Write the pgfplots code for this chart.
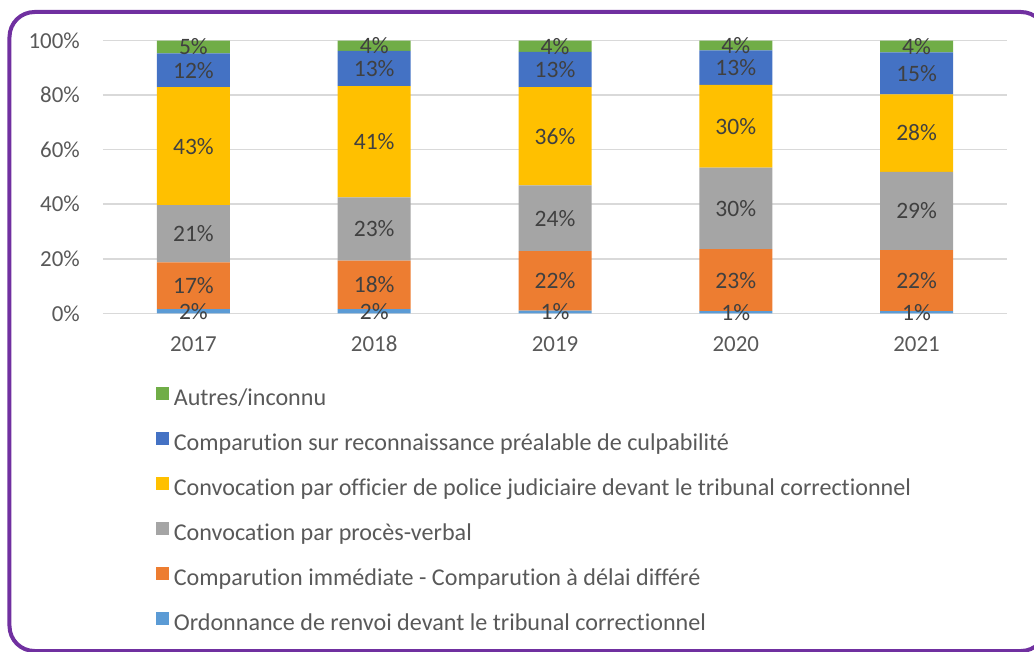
\documentclass[border=0pt]{standalone}
\usepackage{pgfplots}
\usepackage{pgfplotstable}
\pgfplotsset{compat=1.18}
\usepackage{fontspec}
\setmainfont[Ligatures=NoCommon]{Carlito}
\definecolor{cGreen}{HTML}{70AD47}
\definecolor{cBlue}{HTML}{4472C4}
\definecolor{cYellow}{HTML}{FFC000}
\definecolor{cGray}{HTML}{A5A5A5}
\definecolor{cOrange}{HTML}{ED7D31}
\definecolor{cLight}{HTML}{5B9BD5}
\definecolor{cFrame}{HTML}{7030A0}
\definecolor{cTick}{HTML}{595959}
\definecolor{cLabel}{HTML}{404040}
\definecolor{cGrid}{HTML}{D9D9D9}
\newcommand\tickfont{\fontsize{23}{27}\selectfont}
\newcommand\barfont{\fontsize{23.6}{27}\selectfont}
\newcommand\legfont{\fontsize{24.2}{28}\selectfont}

% segment values (share of each year, %)
\pgfplotstableread{
x ord cmp pv opj crpc autres
0 1.5 17.2 21.0 43.2 12.4 4.7
1 1.5 17.8 23.2 40.8 12.9 3.8
2 1.0 21.8 24.1 36.0 13.0 4.1
3 0.8 22.7 29.9 30.4 12.6 3.6
4 0.8 22.4 28.7 28.4 15.4 4.3
}\data

% label positions (segment centres) and printed labels
\pgfplotstableread{
x y lab
0 0.75 2
0 10.1 17
0 29.2 21
0 61.3 43
0 89.1 12
0 97.65 5
1 0.75 2
1 10.4 18
1 30.9 23
1 62.9 41
1 89.75 13
1 98.1 4
2 0.5 1
2 11.9 22
2 34.85 24
2 64.9 36
2 89.4 13
2 97.95 4
3 0.4 1
3 12.15 23
3 38.45 30
3 68.6 30
3 90.1 13
3 98.2 4
4 0.4 1
4 12.0 22
4 37.55 29
4 66.1 28
4 88.0 15
4 97.85 4
}\labels

\begin{document}
\begin{tikzpicture}
\useasboundingbox (-103bp,-338.7bp) rectangle (931bp,313.3bp);
\begin{axis}[
  scale only axis, width=904bp, height=272.7bp,
  xmin=-0.5, xmax=4.5, ymin=0, ymax=100,
  ybar stacked, bar width=73bp,
  axis line style={draw=none},
  ymajorgrids, grid style={cGrid, line width=1.5bp},
  ytick={0,20,...,100}, xtick={0,...,4},
  xticklabels={2017,2018,2019,2020,2021},
  tick style={draw=none},
  yticklabel={\pgfmathprintnumber{\tick}\%},
  /pgf/number format/assume math mode=true,
  ticklabel style={font=\tickfont, text=cTick, inner sep=0pt},
  yticklabel style={anchor=east, xshift=-23bp},
  xticklabel style={anchor=center, yshift=-30.7bp},
  reverse legend,
  legend cell align=left,
  legend style={
    at={(axis description cs:0,0)}, anchor=north west,
    xshift=52.6bp, yshift=-73.8bp,
    draw=none, fill=none, inner sep=0pt,
    row sep=21.5bp, column sep=5bp,
    font=\legfont, text=cTick,
    nodes={inner sep=0pt, text height=16bp, text depth=5bp},
  },
  legend image code/.code={\fill[#1] (0bp,0bp) rectangle (13bp,13bp);},
]
\addplot[fill=cLight, draw=none] table[x=x,y=ord]{\data};
\addplot[fill=cOrange, draw=none] table[x=x,y=cmp]{\data};
\addplot[fill=cGray, draw=none] table[x=x,y=pv]{\data};
\addplot[fill=cYellow, draw=none] table[x=x,y=opj]{\data};
\addplot[fill=cBlue, draw=none] table[x=x,y=crpc]{\data};
\addplot[fill=cGreen, draw=none] table[x=x,y=autres]{\data};
\legend{Ordonnance de renvoi devant le tribunal correctionnel,
  Comparution immédiate - Comparution à délai différé,
  Convocation par procès-verbal,
  Convocation par officier de police judiciaire devant le tribunal correctionnel,
  Comparution sur reconnaissance préalable de culpabilité,
  Autres/inconnu}
\end{axis}
\begin{axis}[
  scale only axis, width=904bp, height=272.7bp,
  xmin=-0.5, xmax=4.5, ymin=0, ymax=100,
  hide axis,
  point meta=explicit symbolic,
  nodes near coords={\pgfplotspointmeta\%},
  every node near coord/.append style={anchor=center, font=\barfont, text=cLabel, inner sep=0pt},
]
\addplot[draw=none, mark=none] table[x=x,y=y,meta=lab]{\labels};
\end{axis}
\draw[cFrame, line width=4bp, rounded corners=25bp] (-93.5bp,301.3bp) rectangle (943bp,-337.7bp);
\end{tikzpicture}
\end{document}
